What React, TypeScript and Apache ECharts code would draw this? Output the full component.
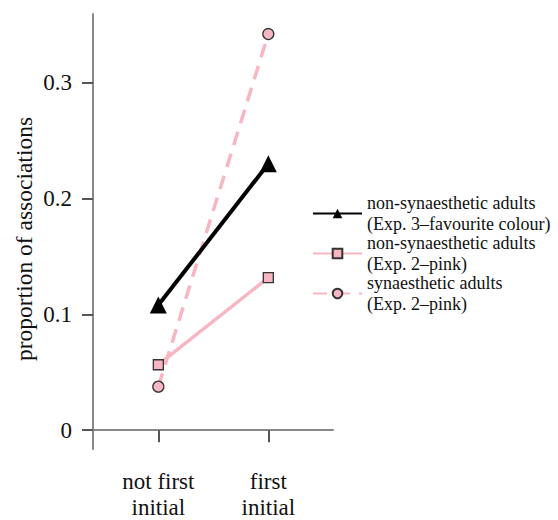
import React, { useEffect, useRef } from "react";
import * as echarts from "echarts";

const categories = ["not first\ninitial", "first\ninitial"];
const yTicks = [0, 0.1, 0.2, 0.3];
const seriesNames = [
  "non-synaesthetic adults\n(Exp. 3–favourite colour)",
  "non-synaesthetic adults\n(Exp. 2–pink)",
  "synaesthetic adults\n(Exp. 2–pink)",
];
const nonSynFav = [0.108, 0.23];
const nonSynPink = [0.0565, 0.1317];
const synPink = [0.0376, 0.342];

const PINK = "#f8b6c2";
const FONT = "'Liberation Serif', 'Times New Roman', serif";

export default function App() {
  const ref = useRef<HTMLDivElement>(null);
  useEffect(() => {
    if (!ref.current) return;
    const chart = echarts.init(ref.current, null, { renderer: "svg" });
    const toPairs = (vals: number[]) => vals.map((v, i) => [i + 1, v]);
    chart.setOption({
      animation: false,
      textStyle: { fontFamily: FONT, color: "#111" },
      grid: { left: 93, top: 14, width: 240, height: 439 },
      xAxis: {
        type: "value",
        min: 0.406,
        max: 2.588,
        axisLine: { show: true, lineStyle: { color: "#888", width: 2 } },
        axisTick: { show: true, length: 12, lineStyle: { color: "#555", width: 2 }, customValues: [1, 2] },
        axisLabel: {
          customValues: [1, 2],
          formatter: (v: number) => categories[Math.round(v) - 1] ?? "",
          fontSize: 23,
          lineHeight: 26,
          margin: 19,
          color: "#111",
          fontFamily: FONT,
        },
        splitLine: { show: false },
      },
      yAxis: {
        type: "value",
        min: -0.01625,
        max: 0.3593,
        name: "proportion of associations",
        nameLocation: "middle",
        nameGap: 57,
        nameTextStyle: { fontSize: 23.5, fontFamily: FONT, color: "#111", padding: [0, 15, 0, 0] },
        axisLine: { show: true, lineStyle: { color: "#888", width: 2 } },
        axisTick: { show: true, length: 11, lineStyle: { color: "#555", width: 2 }, customValues: yTicks },
        axisLabel: {
          customValues: yTicks,
          formatter: (v: number) => (v === 0 ? "0" : String(Math.round(v * 10) / 10)),
          fontSize: 23,
          margin: 21,
          color: "#111",
          fontFamily: FONT,
        },
        splitLine: { show: false },
      },
      legend: {
        orient: "vertical",
        left: 307,
        top: 187,
        itemWidth: 49,
        itemHeight: 12,
        itemGap: -3,
        textStyle: { fontSize: 18, lineHeight: 21.5, fontFamily: FONT, color: "#111" },
        data: seriesNames,
      },
      series: [
        {
          name: seriesNames[0],
          type: "line",
          data: toPairs(nonSynFav),
          symbol: "triangle",
          symbolSize: 17,
          lineStyle: { color: "#000", width: 4 },
          itemStyle: { color: "#000" },
          z: 3,
        },
        {
          name: seriesNames[1],
          type: "line",
          data: toPairs(nonSynPink),
          symbol: "rect",
          symbolSize: 10,
          lineStyle: { color: PINK, width: 3.5 },
          itemStyle: { color: PINK, borderColor: "#333", borderWidth: 1.3 },
          z: 2,
        },
        {
          name: seriesNames[2],
          type: "line",
          data: toPairs(synPink),
          symbol: "circle",
          symbolSize: 11,
          lineStyle: { color: PINK, width: 3.5, type: [14, 9] },
          itemStyle: { color: PINK, borderColor: "#333", borderWidth: 1.3 },
          z: 2,
        },
      ],
    });
    return () => chart.dispose();
  }, []);
  return (
    <div
      ref={ref}
      style={{ position: "absolute", left: 0, top: 0, width: 558, height: 520, background: "#fff" }}
    />
  );
}
